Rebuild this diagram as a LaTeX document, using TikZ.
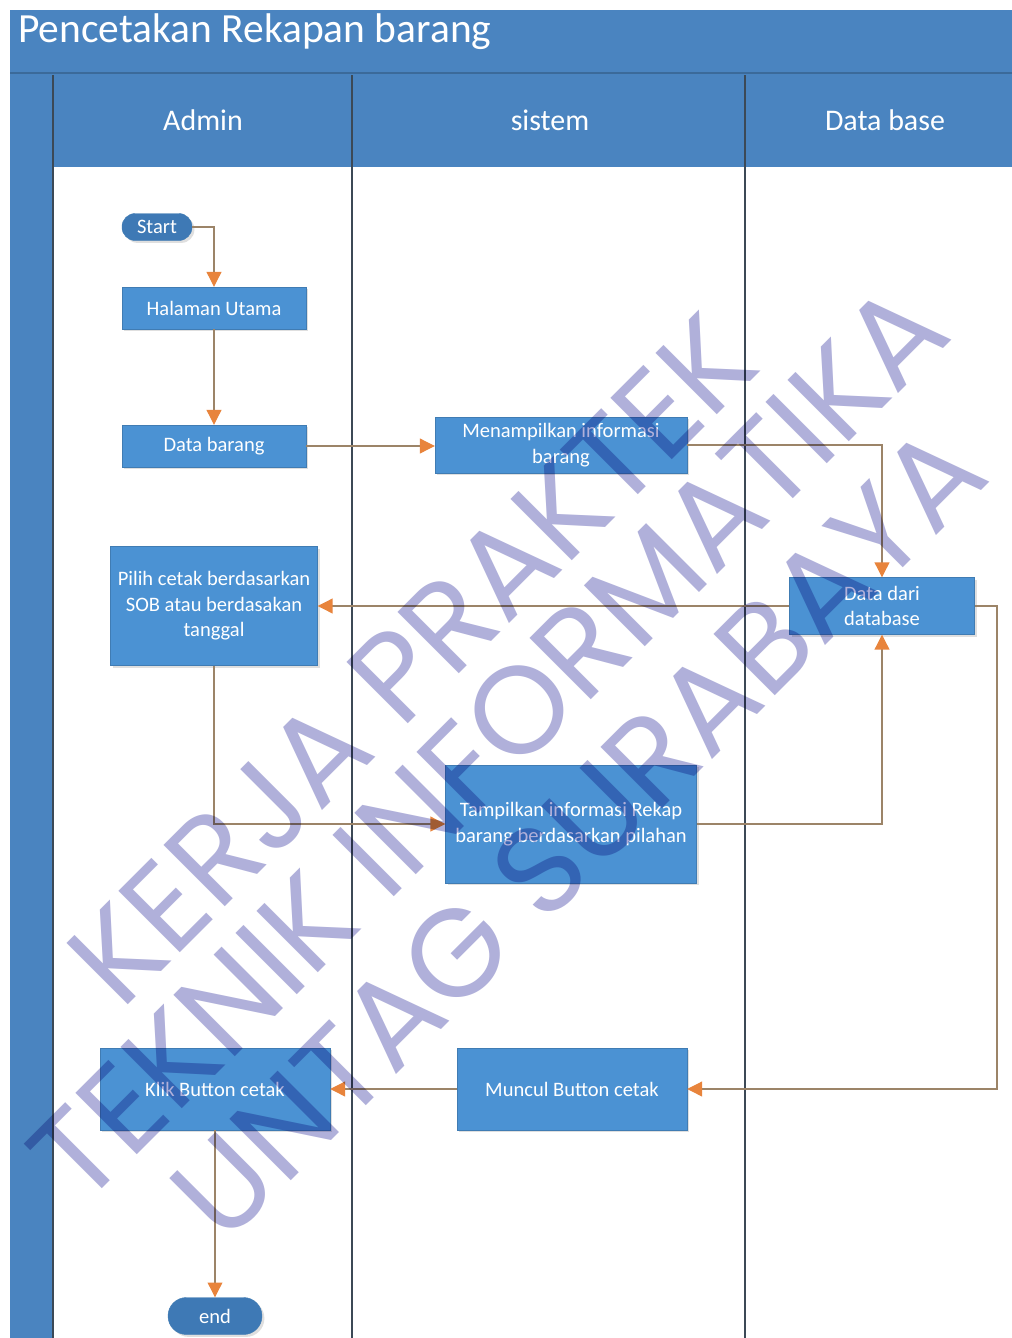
\documentclass[tikz,border=0pt]{standalone}
\usepackage{fontspec}
\setmainfont{Carlito}
\newfontfamily\wmfont{Poppins}
\usetikzlibrary{arrows.meta,shadows}
\definecolor{lanebg}{HTML}{4A84C0}
\definecolor{boxfill}{HTML}{4B92D3}
\definecolor{pillfill}{HTML}{3E79B5}
\definecolor{flowline}{HTML}{9C8468}
\definecolor{tiporange}{HTML}{E8843C}
\definecolor{laneline}{HTML}{3C4956}
\definecolor{wmark}{HTML}{B0B0DA}

\begin{document}
\begin{tikzpicture}[x=0.25mm,y=-0.25mm,
    act/.style={fill=boxfill,draw=boxfill!85!black,line width=0.3pt,text=white,align=center,inner sep=0pt,
      font=\fontsize{14.6}{18.2}\selectfont,drop shadow={opacity=0.25,shadow xshift=0.6mm,shadow yshift=-0.6mm}},
    pill/.style={act,fill=pillfill},
    lanehead/.style={text=white,inner sep=0pt,font=\fontsize{21.3}{25}\selectfont},
    flow/.style={draw=flowline,line width=0.8pt,-{Triangle[length=3.7mm,width=3.7mm,color=tiporange]}},
    wm/.style={text=wmark,inner sep=0pt,rotate=45,font=\wmfont\fontsize{88.5}{96}\selectfont}
  ]
  \useasboundingbox (0,0) rectangle (1012,1338);
  % frame and lanes
  \fill[white] (0,0) rectangle (1012,1338);
  \fill[lanebg] (10,10) rectangle (1012,1338);
  \fill[white] (53,167) rectangle (1012,1338);
  \draw[lanebg!80!black,line width=1pt] (10,73) -- (1012,73);
  \draw[laneline,line width=0.8pt] (53,75) -- (53,1338);
  \foreach \x in {352,745} \draw[laneline,line width=0.9pt] (\x,75) -- (\x,1338);
  \node[anchor=base west,text=white,inner sep=0pt,font=\fontsize{29.5}{35}\selectfont] (title) at (18,42) {Pencetakan Rekapan barang};
  \node[lanehead] (hadmin) at (203,120) {Admin};
  \node[lanehead] (hsistem) at (550,120) {sistem};
  \node[lanehead] (hdb) at (885,120) {Data base};

  % activities
  \node[pill,rounded corners=3.3mm,minimum width=17.5mm,minimum height=6.75mm] (start) at (157,227) {Start};
  \node[act,minimum width=46mm,minimum height=10.5mm] (halaman) at (214,308) {Halaman Utama};
  \node[act,minimum width=46mm,minimum height=10.5mm] (databarang) at (214,446) {Data barang};
  \node[act,minimum width=63mm,minimum height=14mm] (tampilinfo) at (561,445) {Menampilkan informasi\\barang};
  \node[act,minimum width=46.25mm,minimum height=14.25mm] (datadb) at (882,606) {Data dari\\database};
  \node[act,minimum width=51.75mm,minimum height=29.75mm] (pilih) at (214,606) {Pilih cetak berdasarkan\\SOB atau berdasakan\\tanggal};
  \node[act,minimum width=62.75mm,minimum height=29.5mm] (rekap) at (571,824) {Tampilkan informasi Rekap\\barang berdasarkan pilahan};
  \node[act,minimum width=57.5mm,minimum height=20.5mm] (klik) at (215,1089) {Klik Button cetak};
  \node[act,minimum width=57.5mm,minimum height=20.5mm] (muncul) at (572,1089) {Muncul Button cetak};
  \node[pill,rounded corners=4.6mm,minimum width=23.5mm,minimum height=9.25mm] (end) at (215,1316) {end};
  \coordinate (dbturn) at (997,606);

  % flows
  \draw[flow] (start.east) -| (halaman.north);
  \draw[flow] (halaman) -- (databarang);
  \draw[flow] (databarang.east) -- (databarang.east -| tampilinfo.west);
  \draw[flow] (tampilinfo.east) -| (datadb.north);
  \draw[flow] (datadb.west) -- (pilih.east);
  \draw[flow] (pilih.south) |- (rekap.west);
  \draw[flow] (rekap.east) -| (datadb.south);
  \draw[flow] (datadb.east) -- (dbturn) |- (muncul.east);
  \draw[flow] (muncul) -- (klik);
  \draw[flow] (klik) -- (end);

  % watermark
  \begin{scope}[blend mode=multiply]
    \node[wm] (wmone) at (412,660) {KERJA PRAKTEK};
    \node[wm] (wmtwo) at (488,742) {TEKNIK INFORMATIKA};
    \node[wm] (wmthree) at (578,832) {UNTAG SURABAYA};
  \end{scope}
\end{tikzpicture}
\end{document}
